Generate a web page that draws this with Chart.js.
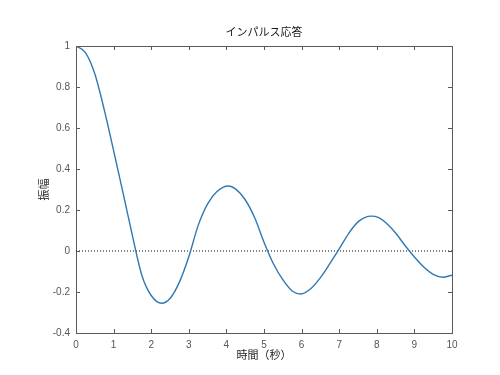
<!DOCTYPE html>
<html>
<head>
<meta charset="utf-8">
<script src="https://cdn.jsdelivr.net/npm/chart.js@4"></script>
<style>
  body { margin: 0; background: #fff; }
  #wrap { width: 500px; height: 375px; }
</style>
</head>
<body>
<div id="wrap"><canvas id="impulse_canvas" width="500" height="375"></canvas></div>
<script>
// values (extra points at the peaks/dips)
const time_s = [0, 0.25, 0.5, 0.75, 1, 1.25, 1.5, 1.75, 2, 2.28, 2.5, 2.75, 3, 3.25, 3.5, 3.75, 4.05, 4.25, 4.5, 4.75, 5,
  5.25, 5.5, 5.75, 5.98, 6.25, 6.5, 6.75, 7, 7.25, 7.5, 7.85, 8.05, 8.25, 8.5, 8.75, 9, 9.25, 9.5, 9.75, 10];
const amplitude = [1.0, 0.968, 0.865, 0.69, 0.49, 0.285, 0.075, -0.118, -0.217, -0.255, -0.232, -0.152, -0.028, 0.125, 0.23, 0.29, 0.317, 0.302, 0.25, 0.163, 0.043,
  -0.062, -0.14, -0.195, -0.21, -0.183, -0.13, -0.062, 0.01, 0.085, 0.142, 0.17, 0.163, 0.137, 0.088, 0.027, -0.029, -0.078, -0.114, -0.128, -0.118];
const zero_line_t = [0, 10];
const zero_line_y = [0, 0];

const x_ticks = [0, 1, 2, 3, 4, 5, 6, 7, 8, 9, 10];
const y_ticks = [-0.4, -0.2, 0, 0.2, 0.4, 0.6, 0.8, 1];

const chart_title = "インパルス応答";
const x_title = "時間（秒）";
const y_title = "振幅";

const font_family = '"Liberation Sans", "Noto Sans CJK JP", sans-serif';
const axis_color = "#5a5a5a";

// inner ticks on all four sides + top/right frame, like the matlab axes box
const box_ticks = {
  id: "box_ticks",
  afterDatasetsDraw(chart){
    const ctx = chart.ctx;
    const a = chart.chartArea;
    const xs = chart.scales.x;
    const ys = chart.scales.y;
    const len = 4;
    ctx.save();
    ctx.strokeStyle = axis_color;
    ctx.lineWidth = 1;
    ctx.beginPath();
    ctx.moveTo(a.left, a.top + 0.5);
    ctx.lineTo(a.right + 0.5, a.top + 0.5);
    ctx.lineTo(a.right + 0.5, a.bottom);
    for(const v of x_ticks){
      const px = Math.round(xs.getPixelForValue(v)) + 0.5;
      ctx.moveTo(px, a.bottom); ctx.lineTo(px, a.bottom - len);
      ctx.moveTo(px, a.top); ctx.lineTo(px, a.top + len);
    }
    for(const v of y_ticks){
      const py = Math.round(ys.getPixelForValue(v)) + 0.5;
      ctx.moveTo(a.left, py); ctx.lineTo(a.left + len, py);
      ctx.moveTo(a.right, py); ctx.lineTo(a.right - len, py);
    }
    ctx.stroke();

    //title centred over the axes box, not the whole canvas
    ctx.fillStyle = "#1a1a1a";
    ctx.font = `11px ${font_family}`;
    ctx.textAlign = "center";
    ctx.textBaseline = "middle";
    ctx.fillText(chart_title, (a.left + a.right) / 2, 33);
    ctx.restore();
  }
};

const ctx_1 = document.getElementById("impulse_canvas");

new Chart(ctx_1, {
  type: "line",
  data: {
    datasets: [
      {
        label: "impulse",
        data: time_s.map((t, i) => ({ x: t, y: amplitude[i] })),
        borderColor: "#2f78b3",
        borderWidth: 1.4,
        pointRadius: 0,
        cubicInterpolationMode: "monotone",
        fill: false,
        order: 1
      },
      {
        label: "zero",
        data: zero_line_t.map((t, i) => ({ x: t, y: zero_line_y[i] })),
        borderColor: "#000",
        borderWidth: 1,
        borderDash: [1, 2],
        pointRadius: 0,
        fill: false,
        order: 2
      }
    ]
  },
  options: {
    responsive: false,
    animation: false,
    layout: { padding: { left: 0, right: 48, top: 46, bottom: 0 } },
    plugins: {
      legend: { display: false },
      tooltip: { enabled: false },
      title: { display: false }
    },
    scales: {
      x: {
        type: "linear",
        min: 0,
        max: 10,
        afterFit(scale){ scale.height = 42; },
        afterBuildTicks(scale){ scale.ticks = x_ticks.map(v => ({ value: v })); },
        grid: { drawOnChartArea: false, drawTicks: false },
        border: { display: true, color: axis_color },
        ticks: {
          color: "#555", padding: 6, font: { family: font_family, size: 10 },
          callback: (v) => String(Number(v.toFixed(1)))
        },
        title: {
          display: true,
          text: x_title,
          color: "#1a1a1a",
          font: { family: font_family, size: 11 },
          padding: { top: 0, bottom: 12 }
        }
      },
      y: {
        type: "linear",
        min: -0.4,
        max: 1,
        afterFit(scale){ scale.width = 76; },
        afterBuildTicks(scale){ scale.ticks = y_ticks.map(v => ({ value: v })); },
        grid: { drawOnChartArea: false, drawTicks: false },
        border: { display: true, color: axis_color },
        ticks: {
          color: "#555", padding: 6, font: { family: font_family, size: 10 },
          callback: (v) => String(Number(v.toFixed(1)))
        },
        title: {
          display: true,
          text: y_title,
          color: "#1a1a1a",
          font: { family: font_family, size: 11 },
          padding: { top: 38, bottom: 0 }
        }
      }
    }
  },
  plugins: [box_ticks]
});
</script>
</body>
</html>
